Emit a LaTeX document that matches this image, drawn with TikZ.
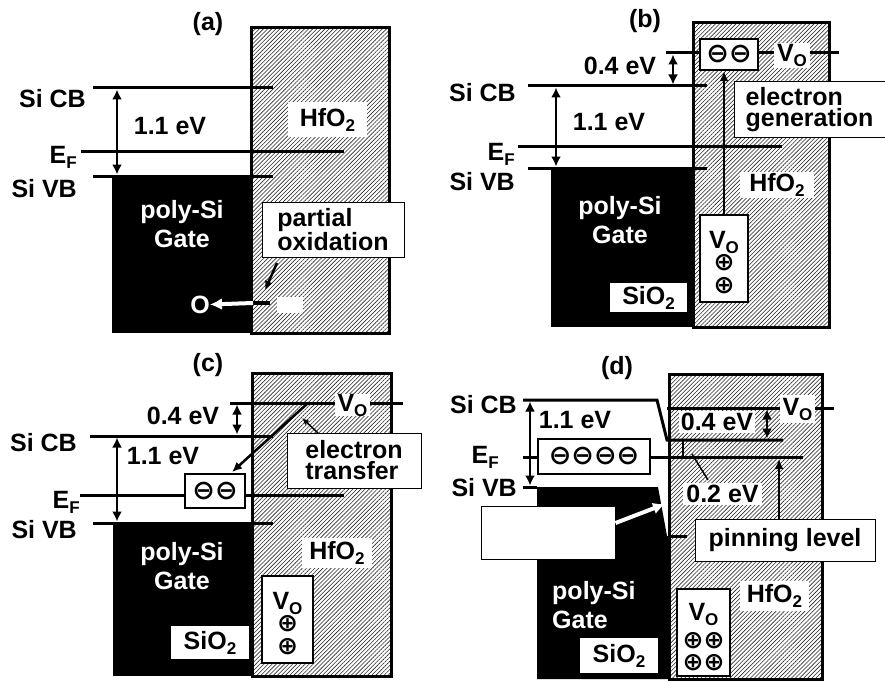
\documentclass[tikz,border=0pt]{standalone}
\usepackage{fontspec}
\setmainfont{Liberation Sans}
\newfontfamily\symf{DejaVu Sans}
\usetikzlibrary{patterns.meta,arrows.meta}
\newcommand\sbs[1]{\raisebox{-5pt}{\fontsize{17}{17}\selectfont #1}}
% box from corners: name, style, x1, y1, x2, y2, text
\newcommand\bx[7]{%
  \pgfmathsetmacro\bxcx{(#3+#5)/2}\pgfmathsetmacro\bxcy{(#4+#6)/2}%
  \pgfmathsetmacro\bxw{#5-#3}\pgfmathsetmacro\bxh{#6-#4}%
  \node[#2, minimum width=\bxw pt, minimum height=\bxh pt] (#1) at (\bxcx,\bxcy) {#7};}
\begin{document}
\begin{tikzpicture}[x=1pt,y=-1pt,
  lvl/.style={line width=3pt},
  frame/.style={draw, line width=3pt},
  hatch/.style={pattern={Lines[angle=45,distance=2.9pt,line width=0.6pt]}, pattern color=black!85},
  txt/.style={font=\fontsize{25}{21}\selectfont\bfseries, inner sep=0pt},
  wbox/.style={txt, fill=white},
  lbox/.style={txt, draw, line width=1pt, fill=white},
  cbox/.style={draw, line width=2.5pt, fill=white, inner sep=0pt},
  sym/.style={font=\fontsize{27}{27}\selectfont\symf\bfseries, inner sep=0pt},
  psym/.style={font=\fontsize{25}{25}\selectfont\symf\bfseries, inner sep=0pt},
  gate/.style={txt, white, align=center, font=\fontsize{25}{29}\selectfont\bfseries},
  dblarr/.style={line width=2.5pt, {Latex[length=10pt,width=10pt]}-{Latex[length=10pt,width=10pt]}},
  arr/.style={line width=2.5pt, -{Latex[length=10pt,width=9pt]}},
  thinarr/.style={line width=1.5pt, -{Latex[length=7pt,width=6pt]}},
  warr/.style={white, line width=4pt, -{Latex[length=12pt,width=12pt]}}]
\useasboundingbox (0,0) rectangle (885,682);

% ================= (a) =================
\fill[hatch] (251,28) rectangle (389,333);
\fill (112,176) rectangle (251,333);
\draw[lvl] (93,88) -- (273,88);
\draw[lvl] (81,151) -- (344,151);
\draw[lvl] (93,176) -- (273,176);
\draw[dblarr] (117,89.5) -- (117,174.5);
\draw[frame] (251,28) rectangle (389,333);
\node[txt, anchor=base] (ta) at (208,31) {(a)};
\node[txt, anchor=base east] (cba) at (86,108) {Si CB};
\node[txt, anchor=base east] (efa) at (77,163) {E\sbs{F}};
\node[txt, anchor=base east] (vba) at (77,197) {Si VB};
\node[txt, anchor=base] (gpa) at (170,135) {1.1 eV};
\bx{hfa}{wbox}{288}{102}{367}{137}{HfO\sbs{2}}
\bx{pox}{lbox, align=left}{262}{202}{404}{257}{partial\\oxidation}
\node[gate] (pga) at (182,224) {poly-Si\\Gate};
\bx{vac}{fill=white, inner sep=0pt}{277}{297}{303}{313}{}
\coordinate (poxs) at (277,263);
\coordinate (poxe) at (265,290);
\draw[line width=2.5pt, -{Latex[length=9pt,width=8pt]}] (poxs) -- (poxe);
\node[txt, white] (oa) at (200,304.5) {O};
\coordinate (oa1) at (270,303);
\coordinate (oa2) at (253,303);
\draw[line width=4pt] (oa1) -- (oa2);
\draw[warr] (oa2) -- (oa.east);

% ================= (b) =================
\fill[hatch] (693,23) rectangle (829,327);
\fill (551,168) rectangle (693,327);
\draw[lvl] (666,53) -- (839,53);
\draw[lvl] (528,86) -- (707,86);
\draw[lvl] (518,146) -- (782,146);
\draw[lvl] (528,168) -- (707,168);
\draw[dblarr] (673,54.5) -- (673,84.5);
\draw[dblarr] (556,87.5) -- (556,166.5);
\draw[frame] (693,23) rectangle (829,327);
\node[txt, anchor=base] (tb) at (645,28) {(b)};
\node[txt, anchor=base east] (cbb) at (516,102) {Si CB};
\node[txt, anchor=base east] (efb) at (515,160) {E\sbs{F}};
\node[txt, anchor=base east] (vbb) at (515,190) {Si VB};
\node[txt, anchor=base] (gpb) at (609,130) {1.1 eV};
\node[txt, anchor=base] (d4b) at (620,75) {0.4 eV};
\bx{emb}{cbox, sym}{700}{39}{758}{70}{⊖⊖}
\bx{vob}{wbox}{774}{43}{810}{68}{V\sbs{O}}
\bx{vlb}{cbox}{700}{215}{748}{302}{}
\node[txt] (vlbt) at (724,242) {V\sbs{O}};
\node[psym] (pb1) at (724,263) {⊕};
\node[psym] (pb2) at (724,286) {⊕};
\draw[arr] (vlb.north) -- (vlb.north |- emb.south);
\bx{egen}{lbox, align=left}{734}{82}{885}{137}{electron\\generation}
\bx{hfb}{wbox}{740}{172}{814}{198}{HfO\sbs{2}}
\bx{sib}{wbox}{610}{283}{687}{312}{SiO\sbs{2}}
\node[gate] (pgb) at (620,220) {poly-Si\\Gate};

% ================= (c) =================
\fill[hatch] (252,373) rectangle (391,676);
\fill (113,523) rectangle (252,676);
\draw[lvl] (230,403) -- (403,403);
\draw[lvl] (90,436) -- (273,436);
\draw[lvl] (80,495) -- (344,495);
\draw[lvl] (93,523) -- (273,523);
\draw[dblarr] (237,404.5) -- (237,434.5);
\draw[dblarr] (117,437.5) -- (117,521.5);
\draw[frame] (252,373) rectangle (391,676);
\node[txt, anchor=base] (tc) at (208,371) {(c)};
\node[txt, anchor=base east] (cbc) at (77,451) {Si CB};
\node[txt, anchor=base east] (efc) at (80,508) {E\sbs{F}};
\node[txt, anchor=base east] (vbc) at (77,538) {Si VB};
\node[txt, anchor=base] (gpc) at (163,464) {1.1 eV};
\node[txt, anchor=base] (d4c) at (183,424) {0.4 eV};
\bx{emc}{cbox, sym}{185}{474}{245}{508}{⊖⊖}
\coordinate (ets) at (308,403);
\coordinate (ete) at (232,472);
\draw[arr] (ets) -- (ete);
\bx{voc}{wbox}{335}{394}{370}{416}{V\sbs{O}}
\bx{etr}{lbox, align=left}{287}{433}{421}{488}{electron\\transfer}
\coordinate (ptc1) at (318,433);
\coordinate (ptc2) at (302,418);
\draw[thinarr] (ptc1) -- (ptc2);
\bx{hfc}{wbox}{302}{538}{372}{568}{HfO\sbs{2}}
\bx{vlc}{cbox}{262}{576}{313}{663}{}
\node[txt] (vlct) at (287.5,603) {V\sbs{O}};
\node[psym] (pc1) at (287.5,624) {⊕};
\node[psym] (pc2) at (287.5,647) {⊕};
\bx{sic}{wbox}{171}{626}{249}{659}{SiO\sbs{2}}
\node[gate] (pgc) at (182,566) {poly-Si\\Gate};

% ================= (d) =================
\fill[hatch] (669,374) rectangle (822,679);
\fill (537,487) -- (658,487) -- (667,536) -- (669,536) -- (669,679) -- (537,679) -- cycle;
\draw[lvl] (523,400) -- (657,400) -- (667,440) -- (783,440);
\draw[lvl] (523,457) -- (803,457);
\draw[lvl] (523,487) -- (537,487);
\draw[lvl] (669,536) -- (687,536);
\draw[lvl] (667,408) -- (834,408);
\draw[dblarr] (530,401.5) -- (530,485.5);
\draw[dblarr] (767,409.5) -- (767,438.5);
\draw[frame] (669,374) rectangle (822,679);
\node[txt, anchor=base] (td) at (617,374) {(d)};
\node[txt, anchor=base east] (cbd) at (517,413) {Si CB};
\node[txt, anchor=base east] (efd) at (499,463) {E\sbs{F}};
\node[txt, anchor=base east] (vbd) at (517,496) {Si VB};
\node[txt, anchor=base] (gpd) at (575,428) {1.1 eV};
\bx{emd}{cbox, sym}{538}{439}{650}{474}{⊖⊖⊖⊖}
\bx{d4d}{wbox}{679}{411}{755}{433}{0.4 eV}
\bx{vod}{wbox}{780}{395}{815}{423}{V\sbs{O}}
\coordinate (tk1) at (683,441);
\coordinate (tk2) at (683,456);
\draw[line width=2pt] (tk1) -- (tk2);
\bx{d2d}{wbox}{683}{483}{762}{505}{0.2 eV}
\coordinate (pd1) at (692,454);
\coordinate (pd2) at (708,480);
\draw[line width=1.5pt] (pd1) -- (pd2);
\bx{pin}{lbox}{695}{519}{875}{561}{pinning level}
\coordinate (pinT) at (779,459);
\draw[arr] (pin.north -| pinT) -- (pinT);
\bx{hfd}{wbox}{740}{581}{809}{611}{HfO\sbs{2}}
\bx{vld}{cbox}{677}{589}{730}{676}{}
\node[txt] (vldt) at (703.5,614) {V\sbs{O}};
\node[psym] (pd3) at (703.5,641) {⊕⊕};
\node[psym] (pd4) at (703.5,663) {⊕⊕};
\bx{sid}{wbox}{580}{638}{658}{673}{SiO\sbs{2}}
\node[gate, align=left, anchor=west] (pgd) at (552,605) {poly-Si\\Gate};
\bx{wbd}{lbox}{481}{506}{615}{559}{}
\coordinate (wae) at (665,504);
\draw[warr] (wbd.east |- 0,523) -- (wae);
\end{tikzpicture}
\end{document}
